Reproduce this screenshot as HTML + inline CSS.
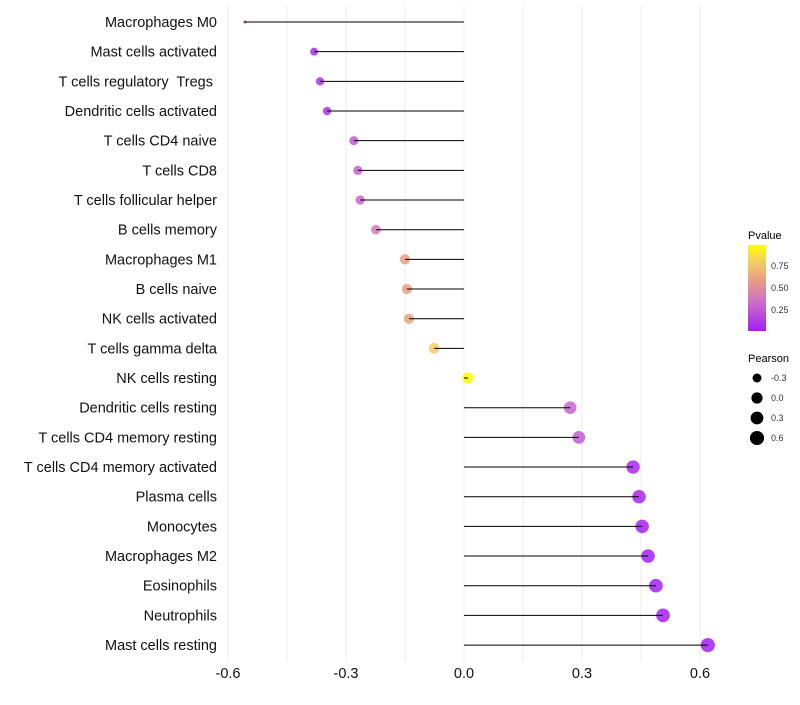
<!DOCTYPE html>
<html><head><meta charset="utf-8"><style>
body{margin:0;background:#fff;font-family:"Liberation Sans",sans-serif}
svg text{font-family:"Liberation Sans",sans-serif;white-space:pre}
</style></head><body>
<svg id="chart" width="800" height="700" xmlns="http://www.w3.org/2000/svg">
<defs><linearGradient id="pgrad" x1="0" y1="1" x2="0" y2="0">
<stop offset="0" stop-color="#a41ff4"/><stop offset="0.35" stop-color="#cf70c6"/><stop offset="0.6" stop-color="#e8a080"/><stop offset="0.8" stop-color="#f3cd66"/><stop offset="1" stop-color="#ffff00"/></linearGradient></defs>
<g id="grid"></g>
<g id="points"></g>
<g id="marks"></g>
<g id="ylabels"></g>
<g id="xlabels"></g>
<g>
<text x="748" y="239" font-size="11">Pvalue</text>
<rect x="748" y="245" width="18" height="86" fill="url(#pgrad)"/>
<text x="771" y="269" font-size="9" fill="#333">0.75</text>
<text x="771" y="291" font-size="9" fill="#333">0.50</text>
<text x="771" y="313" font-size="9" fill="#333">0.25</text>
</g>
<g id="sizeleg">
<text x="748" y="362" font-size="11">Pearson</text>
</g>
</svg>
<script>
const categories=["Macrophages M0","Mast cells activated","T cells regulatory  Tregs ","Dendritic cells activated","T cells CD4 naive","T cells CD8","T cells follicular helper","B cells memory","Macrophages M1","B cells naive","NK cells activated","T cells gamma delta","NK cells resting","Dendritic cells resting","T cells CD4 memory resting","T cells CD4 memory activated","Plasma cells","Monocytes","Macrophages M2","Eosinophils","Neutrophils","Mast cells resting"];
const pearson=[-0.557,-0.381,-0.366,-0.348,-0.28,-0.27,-0.264,-0.224,-0.15,-0.145,-0.14,-0.076,0.01,0.27,0.292,0.43,0.445,0.453,0.468,0.488,0.506,0.62];
const pvalues=[0.0,0.05,0.07,0.08,0.25,0.28,0.3,0.4,0.6,0.6,0.62,0.8,0.98,0.3,0.25,0.03,0.02,0.01,0.01,0.01,0.01,0.0];
const xTicks=[-0.6,-0.3,0.0,0.3,0.6];
const xTickLabels=["-0.6","-0.3","0.0","0.3","0.6"];
const gridVals=[-0.6,-0.45,-0.3,-0.15,0,0.15,0.3,0.45,0.6];
const sizeLegendVals=[-0.3,0.0,0.3,0.6];
const NS="http://www.w3.org/2000/svg";
const xs=v=>464+v*393.3;
const ys=i=>22+i*29.67;
const pMin=Math.min(...pearson),pMax=Math.max(...pearson);
const rs=v=>{const t=Math.max(0,Math.min(1,(v-pMin)/(pMax-pMin)));return 1.5+5.6*Math.pow(t,0.42);};
function col(p){const st=[[0,[164,31,244]],[0.35,[207,112,198]],[0.6,[232,160,128]],[0.8,[243,205,102]],[1,[255,255,0]]];
for(let k=1;k<st.length;k++){if(p<=st[k][0]){const a=st[k-1],b=st[k],t=(p-a[0])/(b[0]-a[0]);return "rgb("+a[1].map((c,j)=>Math.round(c+(b[1][j]-c)*t)).join(",")+")";}}return "rgb(255,255,0)";}
function mk(t,a,p){const e=document.createElementNS(NS,t);for(const k in a)e.setAttribute(k,a[k]);p.appendChild(e);return e;}
const grid=document.getElementById('grid'),marks=document.getElementById('marks'),pts=document.getElementById('points'),yl=document.getElementById('ylabels'),xl=document.getElementById('xlabels'),sl=document.getElementById('sizeleg');
gridVals.forEach(v=>{const l=mk('line',{x1:xs(v),x2:xs(v),y1:5,y2:662,stroke:'#ececec','stroke-width':1},grid);

});
categories.forEach((c,i)=>{const y=ys(i);
const d=mk('circle',{cx:xs(pearson[i]),cy:y,r:rs(pearson[i]),fill:col(pvalues[i]),'fill-opacity':0.85},pts);


const s=mk('line',{x1:xs(0),x2:xs(pearson[i]),y1:y,y2:y,stroke:'#000','stroke-width':1},marks);


const t=mk('text',{x:217,y:y+5,'text-anchor':'end','font-size':14.5,fill:'#111'},yl);t.textContent=c;

});
xTicks.forEach((v,i)=>{const t=mk('text',{x:xs(v),y:678,'text-anchor':'middle','font-size':14.5,fill:'#111'},xl);t.textContent=xTickLabels[i];

});
sizeLegendVals.forEach((v,i)=>{const y=378+i*20;
const c=mk('circle',{cx:757,cy:y,r:rs(v),fill:'#000'},sl);


const t=mk('text',{x:771,y:y+3,'font-size':9,fill:'#333'},sl);t.textContent=v.toFixed(1);

});
</script>
</body></html>
